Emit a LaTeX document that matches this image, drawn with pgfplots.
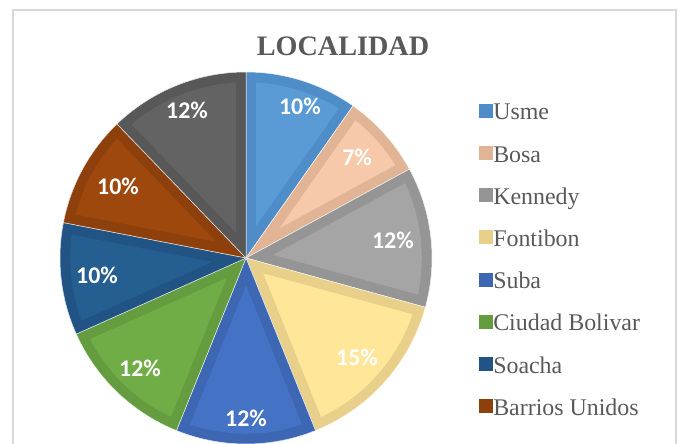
\documentclass[border=0pt]{standalone}
\usepackage{pgfplots}
\pgfplotsset{compat=1.18}
\usepackage{fontspec}
\setmainfont{Liberation Serif}
\newfontfamily\lblfont{Carlito}
\definecolor{txtgray}{HTML}{595959}
\definecolor{framegray}{HTML}{D9D9D9}
\definecolor{usmeL}{HTML}{5B9BD5}\definecolor{usmeD}{HTML}{4F8DC8}
\definecolor{bosaL}{HTML}{F5C9A9}\definecolor{bosaD}{HTML}{E1B495}
\definecolor{kenL}{HTML}{A5A5A5}\definecolor{kenD}{HTML}{959595}
\definecolor{fonL}{HTML}{FFE699}\definecolor{fonD}{HTML}{E8CF8A}
\definecolor{subaL}{HTML}{4472C4}\definecolor{subaD}{HTML}{3D66B3}
\definecolor{cbL}{HTML}{70AD47}\definecolor{cbD}{HTML}{649C3F}
\definecolor{soaL}{HTML}{255E91}\definecolor{soaD}{HTML}{215484}
\definecolor{barL}{HTML}{9E480E}\definecolor{barD}{HTML}{8D400C}
\definecolor{gryL}{HTML}{636363}\definecolor{gryD}{HTML}{585858}
\def\bw{0.055}
\def\total{41}
% #1 = counts before this slice, #2 = count of slice, #3 dark, #4 light
\newcommand{\pieslice}[4]{%
  \pgfmathsetmacro\tA{90-360*(#1+#2)/\total}%
  \pgfmathsetmacro\tB{90-360*#1/\total}%
  \pgfmathsetmacro\half{180*#2/\total}%
  \pgfmathsetmacro\mid{(\tA+\tB)/2}%
  \pgfmathsetmacro\apex{\bw/sin(\half)}%
  \pgfmathsetmacro\ax{\apex*cos(\mid)}%
  \pgfmathsetmacro\ay{\apex*sin(\mid)}%
  \pgfmathsetmacro\del{asin(\bw/(1-\bw))}%
  \pgfmathsetmacro\iA{\tA+\del}%
  \pgfmathsetmacro\iB{\tB-\del}%
  \edef\temp{\noexpand\addplot[fill=#3, draw=white!85!#3, line width=0.5bp, domain=\tA:\tB, samples=60]
    ({cos(x)},{sin(x)}) -- (0,0) -- cycle;
    \noexpand\addplot[fill=#4, draw=none, forget plot, domain=\iA:\iB, samples=60]
    ({(1-\bw)*cos(x)},{(1-\bw)*sin(x)}) -- (\ax,\ay) -- cycle;}%
  \temp
}
\begin{document}
\begin{tikzpicture}
\useasboundingbox (0,0) rectangle (680bp,444bp);
\draw[framegray, line width=1.3bp] (13bp,-2bp) -- (13bp,434bp) -- (676bp,434bp) -- (676bp,-2bp);
\node[font=\fontsize{28.3}{31}\selectfont\bfseries, text=txtgray, inner sep=0pt] at (343bp,398bp) {LOCALIDAD};
\begin{axis}[
  at={(60bp,0bp)}, anchor=south west,
  scale only axis, width=372bp, height=372bp,
  xmin=-1, xmax=1, ymin=-1, ymax=1,
  hide axis, clip=false,
  legend entries={Usme,Bosa,Kennedy,Fontibon,Suba,Ciudad Bolivar,Soacha,Barrios Unidos},
  legend style={at={(axis cs:1.253,0.830)}, anchor=north west, draw=none, fill=none,
    inner sep=0pt, row sep=21.2bp,
    font=\fontsize{24}{27}\selectfont, text=txtgray,
    nodes={inner sep=0pt, text height=16bp, text depth=5bp}},
  legend cell align=left,
  legend image code/.code={\fill[#1, draw=none] (0bp,-3.5bp) rectangle (14bp,10.5bp);},
  /tikz/every even column/.append style={column sep=9bp},
]
\pieslice{0}{4}{usmeD}{usmeL}
\pieslice{4}{3}{bosaD}{bosaL}
\pieslice{7}{5}{kenD}{kenL}
\pieslice{12}{6}{fonD}{fonL}
\pieslice{18}{5}{subaD}{subaL}
\pieslice{23}{5}{cbD}{cbL}
\pieslice{28}{4}{soaD}{soaL}
\pieslice{32}{4}{barD}{barL}
\pieslice{36}{5}{gryD}{gryL}
\addplot[forget plot, draw=none, mark=none, nodes near coords={\pgfplotspointmeta\%},
  point meta=explicit symbolic,
  nodes near coords style={anchor=center, text=white, font=\lblfont\fontsize{24}{27}\selectfont\bfseries}]
  table[meta=lab] {
x y lab
0.290 0.817 10
0.597 0.543 7
0.790 0.097 12
0.597 -0.532 15
0.000 -0.860 12
-0.570 -0.591 12
-0.801 -0.091 10
-0.688 0.387 10
-0.317 0.796 12
};
\end{axis}
\end{tikzpicture}
\end{document}
